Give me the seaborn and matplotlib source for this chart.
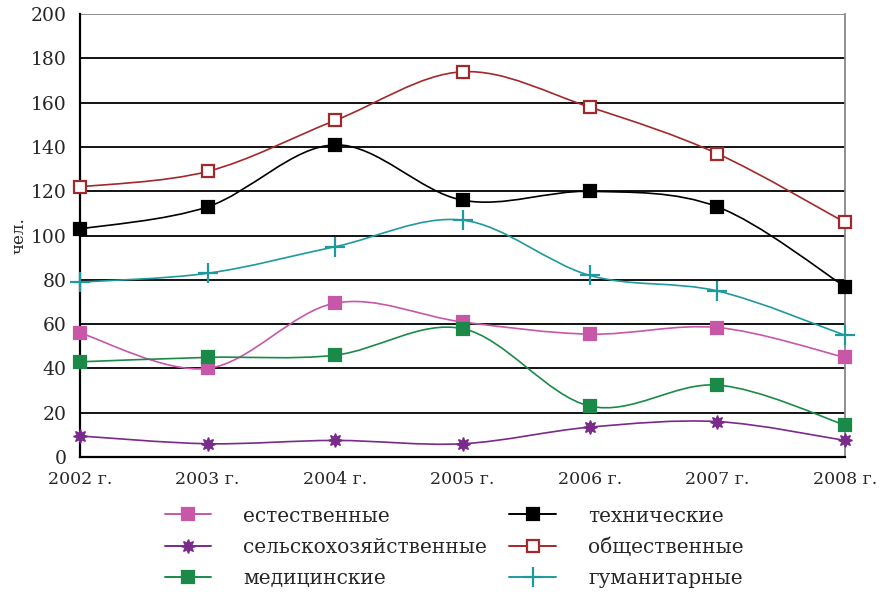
import matplotlib
matplotlib.use("Agg")
import matplotlib.pyplot as plt
from matplotlib.path import Path
from matplotlib.patches import PathPatch
from matplotlib.lines import Line2D
import numpy as np
import pandas as pd
import seaborn as sns

# data
years = ["2002 г.", "2003 г.", "2004 г.", "2005 г.", "2006 г.", "2007 г.", "2008 г."]
estestvennye = [56, 40, 69.5, 61, 55.5, 58.5, 45]
selskohoz = [9.5, 6, 7.5, 6, 13.5, 16, 7.5]
medicinskie = [43, 45, 46, 58, 23, 32.5, 14.5]
tehnicheskie = [103, 113, 141, 116, 120, 113, 77]
obshchestvennye = [122, 129, 152, 174, 158, 137, 106]
gumanitarnye = [79, 83, 95, 107, 82, 75, 55]

names = ["естественные", "сельскохозяйственные", "медицинские",
         "технические", "общественные", "гуманитарные"]
series = [estestvennye, selskohoz, medicinskie, tehnicheskie, obshchestvennye, gumanitarnye]

colors = ["#C857A8", "#7A2A8A", "#1B8A48", "#000000", "#A3282C", "#1E9A9E"]
markers = ["s", (8, 1, 0), "s", "s", "s", "+"]
faces = ["#C857A8", "#7A2A8A", "#1B8A48", "#000000", "white", "#1E9A9E"]
msizes = [9, 10, 9, 9, 8, 14]

rows = []
for n, vals in zip(names, series):
    for i, v in enumerate(vals):
        rows.append({"x": i, "year": years[i], "group": n, "value": v})
df = pd.DataFrame(rows)

sns.set_style("white")
plt.rcParams["font.family"] = ["DejaVu Serif"]

fig = plt.figure(figsize=(8.81, 5.92), dpi=100)
ax = fig.add_axes([0.091, 0.228, 0.868, 0.748])


def smooth_path(xs, ys, t=1 / 6):
    # Excel-like smoothed line drawn as cubic bezier through the points
    xs = np.asarray(xs, float)
    ys = np.asarray(ys, float)
    verts = [(xs[0], ys[0])]
    codes = [Path.MOVETO]
    n = len(xs)
    for i in range(n - 1):
        p0 = i - 1 if i > 0 else i
        p3 = i + 2 if i + 2 < n else i + 1
        c1 = (xs[i] + (xs[i + 1] - xs[p0]) * t, ys[i] + (ys[i + 1] - ys[p0]) * t)
        c2 = (xs[i + 1] - (xs[p3] - xs[i]) * t, ys[i + 1] - (ys[p3] - ys[i]) * t)
        verts += [c1, c2, (xs[i + 1], ys[i + 1])]
        codes += [Path.CURVE4] * 3
    return Path(verts, codes)


handles = []
for n, c, m, fc, ms in zip(names, colors, markers, faces, msizes):
    sub = df[df.group == n]
    ax.add_patch(PathPatch(smooth_path(sub.x, sub.value), fill=False,
                           edgecolor=c, lw=1.2, zorder=3, clip_on=False))
    ax.plot(sub.x, sub.value, ls="none", marker=m, ms=ms, mfc=fc, mec=c,
            mew=1.6 if m in ("s", "+") else 1, zorder=4, clip_on=False)
    handles.append(Line2D([], [], color=c, lw=1.4, marker=m, ms=ms, mfc=fc,
                          mec=c, mew=1.6 if m in ("s", "+") else 1))

ax.set_xlim(0, 6)
ax.set_ylim(0, 200)
ax.set_xticks(range(7))
ax.set_xticklabels(years)
ax.set_yticks(range(0, 201, 20))
for yv in range(20, 200, 20):
    ax.axhline(yv, color="black", lw=1.3, zorder=1)
ax.axhline(200, color="#888888", lw=1.3, zorder=1)

for s in ["left", "bottom"]:
    ax.spines[s].set_color("black")
    ax.spines[s].set_linewidth(1.6)
ax.spines["right"].set_color("#888888")
ax.spines["right"].set_linewidth(1.3)
ax.spines["top"].set_visible(False)
ax.tick_params(axis="both", direction="out", length=7, width=1.3, color="black",
               labelsize=12.5, pad=3)
ax.tick_params(axis="y", labelsize=13.5)
ax.set_ylabel("чел.", fontsize=12, labelpad=2)
ax.set_xlabel("")

leg = fig.legend(handles, names, ncol=2, loc="upper left",
                 bbox_to_anchor=(0.178, 0.158), frameon=False, fontsize=14.5,
                 handlelength=2.3, handletextpad=1.6, columnspacing=1.1,
                 labelspacing=0.6, borderaxespad=0)

fig.savefig("out.png", dpi=100)
